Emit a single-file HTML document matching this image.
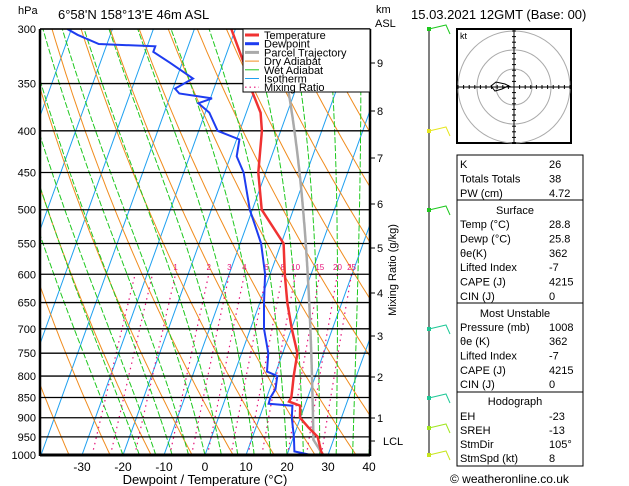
<!DOCTYPE html>
<html><head><meta charset="utf-8">
<style>
html,body{margin:0;padding:0;background:#fff;}
svg{display:block;font-family:"Liberation Sans",sans-serif;}
</style></head>
<body>
<svg id="chart" width="629" height="486" viewBox="0 0 629 486">
<defs><clipPath id="plotclip"><rect x="40" y="29" width="330" height="426"/></clipPath></defs>
<g id="bg" clip-path="url(#plotclip)"></g>
<g id="iso"></g>
<g id="prof" clip-path="url(#plotclip)"></g>
<g id="axes"></g>
<g id="right"></g>
</svg>
<script>
// ---- data ----
const tempP = [1000,990,950,925,900,870,860,850,830,800,750,700,650,600,550,500,450,400,380,350,330,300];
const tempT = [28.8,28.0,25.9,22.8,19.9,18.9,15.8,16.0,15.5,14.7,13.6,10.1,6.7,3.6,0.6,-7.7,-11.8,-14.6,-16.5,-21.9,-25,-31];
const dewP = [1000,990,950,900,870,865,850,830,800,790,750,700,650,600,550,500,450,430,410,400,380,370,365,360,355,345,330,320,315,313,305,300];
const dewT = [25.8,21.5,20.1,17.9,17.0,11.0,10.9,11.4,10.7,7.8,6.5,3.3,1.0,-1.2,-4.9,-10.6,-15.4,-18.5,-19.3,-25.4,-29,-32.5,-29.6,-38,-39.5,-36,-43,-48,-48,-62,-68,-71];
const isobarLabels = [300,350,400,450,500,550,600,650,700,750,800,850,900,950,1000];
const tempTicks = [-30,-20,-10,0,10,20,30,40];
const mixRatios = [0.4,0.6,1,2,3,4,6,8,10,15,20,25];
const mixLabels = ["1","2","3","4","6","8","10","15","20","25"];
const kmLabels = ["1","2","3","4","5","6","7","8","9"];
const kmY = [418,377,336,293,248,204,158,111,63];

const NS="http://www.w3.org/2000/svg";
function mk(tag,attrs,parent){const e=document.createElementNS(NS,tag);for(const k in attrs)e.setAttribute(k,attrs[k]);if(parent)parent.appendChild(e);return e;}
function Y(p){return 29+Math.log(p/300)/Math.log(1000/300)*426;}
function X(T,p){return 205+4.1*T+0.36*(455-Y(p));}
function pathFrom(pts){return pts.map((q,i)=>(i?'L':'M')+q[0].toFixed(1)+' '+q[1].toFixed(1)).join(' ');}
const bg=document.getElementById('bg'),prof=document.getElementById('prof'),axes=document.getElementById('axes'),right=document.getElementById('right'),iso=document.getElementById('iso');

function es(T){return 6.112*Math.exp(17.67*T/(T+243.5));}
function rs(T,p){const e=es(T);return 0.622*e/(p-e);}
function moistDT(T,p){const Tk=T+273.15,r=rs(T,p),Rd=287,cp=1005,L=2.5e6;return (Rd*Tk+L*r)/(p*(cp+L*L*r*0.622/(Rd*Tk*Tk)));}
function moistLine(T0,p0,p1){const pts=[];let T=T0,p=p0;const dp=-2;pts.push([p,T]);while(p>p1){T+=moistDT(T,p)*dp;p+=dp;pts.push([p,T]);}return pts;}

// isotherms
for(let t=-120;t<=40;t+=10){
  const e=mk('path',{d:pathFrom([[X(t,1000),Y(1000)],[X(t,300),Y(300)]]),stroke:'#1ea0f0','stroke-width':1,fill:'none'},bg);
  
  
}
// dry adiabats
for(let th=230;th<=480;th+=10){
  const pts=[];for(let p=1000;p>=300;p-=10){pts.push([X(th*Math.pow(p/1000,0.286)-273.15,p),Y(p)]);}
  const e=mk('path',{d:pathFrom(pts),stroke:'#f08c1e','stroke-width':1,fill:'none'},bg);
  
  
}
// wet adiabats
for(let t=-20;t<=40;t+=4){
  const pts=moistLine(t,1000,300).map(q=>[X(q[1],q[0]),Y(q[0])]);
  const e=mk('path',{d:pathFrom(pts),stroke:'#1ec81e','stroke-width':1,fill:'none','stroke-dasharray':'6,2'},bg);
  
  
}
// mixing ratio
mixRatios.forEach(w=>{
  const pts=[];for(let p=1000;p>=600;p-=10){const e=w*p/(622+w);const l=Math.log(e/6.112);const td=243.5*l/(17.67-l);pts.push([X(td,p),Y(p)]);}
  const e=mk('path',{d:pathFrom(pts),stroke:'#e6147a','stroke-width':1.2,fill:'none','stroke-dasharray':'1.5,4'},bg);
  
  
});
mixRatios.slice(2).forEach((w,i)=>{
  const p=600;const e=w*p/(622+w);const l=Math.log(e/6.112);const td=243.5*l/(17.67-l);
  const t=mk('text',{x:X(td,p),y:270,'font-size':8,fill:'#e6147a','text-anchor':'middle'},prof);t.textContent=mixLabels[i];
  
  
});
// isobars
isobarLabels.forEach(p=>{
  const l=mk('line',{x1:40,x2:370,y1:Y(p),y2:Y(p),stroke:'#000','stroke-width':1.3},iso);
  
  
  const t=mk('text',{x:36,y:Y(p)+4,'font-size':11,'text-anchor':'end'},axes);t.textContent=p;
  
  
});
// parcel
(function(){
  const T0=tempT[0],Td0=dewT[0],p0=tempP[0];
  const Tl=Td0-(0.001296*Td0+0.1963)*(T0-Td0);
  const pl=p0*Math.pow((Tl+273.15)/(T0+273.15),1/0.286);
  const pts=[];
  for(let p=p0;p>pl;p-=2){pts.push([X((T0+273.15)*Math.pow(p/p0,0.286)-273.15,p),Y(p)]);}
  moistLine(Tl,pl,300).forEach(q=>pts.push([X(q[1],q[0]),Y(q[0])]));
  const e=mk('path',{d:pathFrom(pts),stroke:'#aaaaaa','stroke-width':2.5,fill:'none'},prof);
  
  
})();
const tl=mk('path',{d:pathFrom(tempP.map((p,i)=>[X(tempT[i],p),Y(p)])),stroke:'#f03232','stroke-width':2.5,fill:'none'},prof);


const dl=mk('path',{d:pathFrom(dewP.map((p,i)=>[X(dewT[i],p),Y(p)])),stroke:'#1e3cf0','stroke-width':2,fill:'none'},prof);



// frame
mk('line',{x1:40,x2:370,y1:29,y2:29,stroke:'#000','stroke-width':1.5},axes);
mk('line',{x1:40,x2:370,y1:455,y2:455,stroke:'#000','stroke-width':3},axes);
mk('line',{x1:40,x2:40,y1:29,y2:456,stroke:'#000','stroke-width':2.5},axes);
mk('line',{x1:370,x2:370,y1:29,y2:456,stroke:'#000','stroke-width':2.5},axes);
tempTicks.forEach(t=>{
  const x=205+4.1*t;
  const e=mk('text',{x:x,y:471,'font-size':12,'text-anchor':'middle'},axes);e.textContent=t;
  
  
});
const xt=mk('text',{x:205,y:484,'font-size':13,'text-anchor':'middle'},axes);xt.textContent='Dewpoint / Temperature (°C)';


kmLabels.forEach((k,i)=>{
  mk('line',{x1:370,x2:375,y1:kmY[i],y2:kmY[i],stroke:'#000'},axes);
  const e=mk('text',{x:377,y:kmY[i]+4,'font-size':11},axes);e.textContent=k;
  
  
});
mk('line',{x1:370,x2:375,y1:441,y2:441,stroke:'#000'},axes);
const lcl=mk('text',{x:383,y:445,'font-size':11},axes);lcl.textContent='LCL';


const mr=mk('text',{x:0,y:0,'font-size':11,'text-anchor':'middle',transform:'translate(396,270) rotate(-90)'},axes);mr.textContent='Mixing Ratio (g/kg)';


[['hPa',18,14,11],['6°58\'N 158°13\'E 46m ASL',58,19,13],['km',376,13,11],['ASL',375,27,11],['15.03.2021 12GMT (Base: 00)',411,19,13]].forEach(a=>{
  const e=mk('text',{x:a[1],y:a[2],'font-size':a[3]},axes);e.textContent=a[0];
  
  
});
// legend
const leg=mk('g',{},axes);


mk('rect',{x:243,y:29,width:127,height:63,fill:'#fff',stroke:'#000'},leg);
[['Temperature','#f03232',3,''],['Dewpoint','#1e3cf0',3,''],['Parcel Trajectory','#aaaaaa',3,''],['Dry Adiabat','#f08c1e',1,''],['Wet Adiabat','#1ec81e',1,''],['Isotherm','#1ea0f0',1,''],['Mixing Ratio','#e6147a',1.2,'1.5,3']].forEach((it,i)=>{
  const y=35+i*8.7;
  mk('line',{x1:245,x2:259,y1:y,y2:y,stroke:it[1],'stroke-width':it[2],'stroke-dasharray':it[3]},leg);
  const t=mk('text',{x:264,y:y+4,'font-size':11},leg);t.textContent=it[0];
  
  
});
// wind barbs
mk('line',{x1:429,x2:429,y1:29,y2:457,stroke:'#000'},right);
[[29,'#1ec81e'],[131,'#e6e61e'],[210,'#1ec81e'],[329,'#1ec896'],[398,'#1ec896'],[428,'#a0e61e'],[455,'#c8e61e']].forEach(b=>{
  const g=mk('g',{},right);
  
  
  mk('rect',{x:427,y:b[0]-2,width:4,height:4,fill:b[1]},g);
  mk('polyline',{points:`429,${b[0]} 446,${b[0]-4} 450,${b[0]+5}`,stroke:b[1],fill:'none'},g);
});
// hodograph
const h=mk('g',{},right);


mk('rect',{x:457,y:29,width:114,height:114,fill:'#fff',stroke:'#000','stroke-width':2},h);
[18,37,56].forEach(r=>mk('circle',{cx:514,cy:87,r:r,fill:'none',stroke:'#aaa'},h));
mk('line',{x1:458,x2:570,y1:87,y2:87,stroke:'#000'},h);
mk('line',{x1:514,x2:514,y1:30,y2:142,stroke:'#000'},h);
for(let k=-10;k<=10;k++){if(!k)continue;mk('line',{x1:514+k*5.6,x2:514+k*5.6,y1:85,y2:89,stroke:'#000'},h);mk('line',{x1:512,x2:516,y1:87+k*5.6,y2:87+k*5.6,stroke:'#000'},h);}
mk('polyline',{points:'511,87 505,84 496,82 491,86 495,91 502,89 508,86',stroke:'#000',fill:'none'},h);
const kt=mk('text',{x:460,y:39,'font-size':9},h);kt.textContent='kt';
// table
const tb=mk('g',{},right);


[[155,200],[200,303],[303,392],[392,466]].forEach(r=>mk('rect',{x:457,y:r[0],width:126,height:r[1]-r[0],fill:'#fff',stroke:'#000'},tb));
const rows=[['K','26',164],['Totals Totals','38',178.5],['PW (cm)','4.72',193],
['@Surface','',210],['Temp (°C)','28.8',224],['Dewp (°C)','25.8',238.5],['θe(K)','362',253],['Lifted Index','-7',267],['CAPE (J)','4215',281.5],['CIN (J)','0',296],
['@Most Unstable','',313],['Pressure (mb)','1008',327],['θe (K)','362',341],['Lifted Index','-7',355.5],['CAPE (J)','4215',370],['CIN (J)','0',384],
['@Hodograph','',401],['EH','-23',416],['SREH','-13',430],['StmDir','105°',444],['StmSpd (kt)','8',458]];
rows.forEach(r=>{
  const hdr=r[0][0]==='@';
  const t=mk('text',{x:hdr?515:460,y:r[2]+4,'font-size':11,'text-anchor':hdr?'middle':'start'},tb);t.textContent=hdr?r[0].slice(1):r[0];
  
  
  if(r[1]){const v=mk('text',{x:549,y:r[2]+4,'font-size':11},tb);v.textContent=r[1];
  
  }
});
const cp=mk('text',{x:450,y:483,'font-size':12},right);cp.textContent='© weatheronline.co.uk';


</script>
</body></html>
